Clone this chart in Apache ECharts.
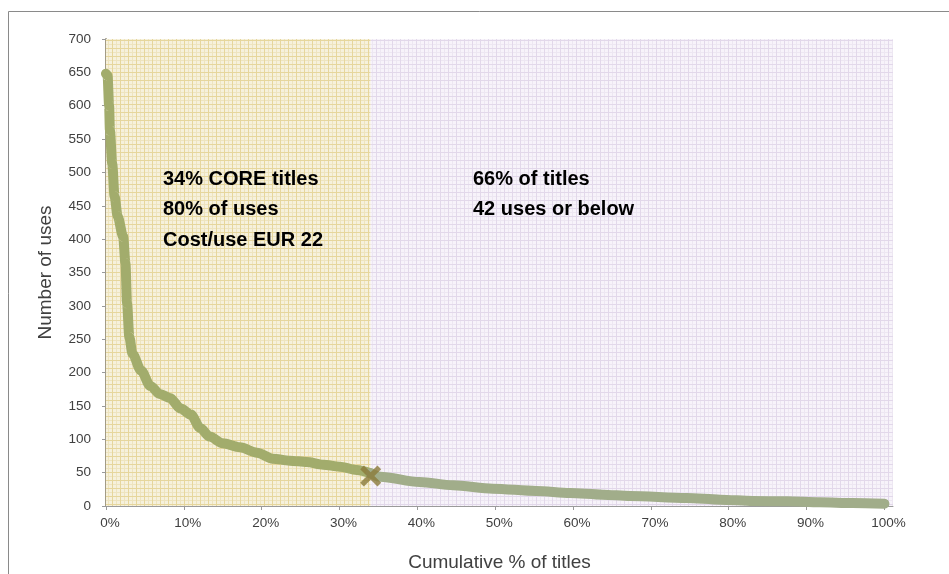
<!DOCTYPE html>
<html>
<head>
<meta charset="utf-8">
<script src="https://cdn.jsdelivr.net/npm/echarts@6/dist/echarts.min.js"></script>
<style>html,body{margin:0;padding:0;background:#fff;}#chart{width:949px;height:574px;}</style>
</head>
<body>
<div id="chart"></div>
<script>
// ---- data ----
const cumulativePct = [0, 0.2, 0.4, 0.5, 0.8, 1.1, 1.5, 2.2, 2.5, 2.7, 3.0, 3.4, 4.5, 5.7, 6.9, 8.2, 9.6, 10.9, 12.1, 13.3, 15.0, 17.2, 19.4, 21.4, 23.6, 25.8, 27.9, 30.0, 32.2, 34.0, 35.2, 40.3, 44.6, 49.7, 55.3, 59.6, 63.8, 67.3, 74.6, 78.9, 83.1, 87.5, 91.7, 95.9, 100];
const numberOfUses  = [648, 645, 600, 563, 513, 464, 434, 404, 364, 304, 253, 228, 203, 180, 168, 162, 146, 137, 117, 104, 94, 88, 80, 71, 68, 66, 62, 59, 54, 49, 44, 36, 31, 26, 22.5, 19.5, 17, 15, 12, 9.5, 7.5, 7, 5.5, 4.5, 3.5];
const cutoffPoint = [34, 45];
const coreBoundary = 34;
const xTickValues = [0, 10, 20, 30, 40, 50, 60, 70, 80, 90, 100];
const coreText = ['34% CORE titles', '80% of uses', 'Cost/use EUR 22'];
const tailText = ['66% of titles', '42 uses or below'];

function makePattern(base, major, minor) {
  const c = document.createElement('canvas');
  c.width = 8; c.height = 8;
  const g = c.getContext('2d');
  g.fillStyle = base; g.fillRect(0, 0, 8, 8);
  g.fillStyle = minor; g.fillRect(4, 0, 1, 8); g.fillRect(0, 4, 8, 1);
  g.fillStyle = major; g.fillRect(0, 0, 1, 8); g.fillRect(0, 0, 8, 1);
  return { image: c, repeat: 'repeat' };
}
const yellowPat = makePattern('#f6f1dc', '#e6d69c', '#eee4bf');
const lilacPat = makePattern('#f7f3fa', '#e2d8ea', '#ede7f2');

const chart = echarts.init(document.getElementById('chart'));
const lineData = cumulativePct.map((x, i) => [x, numberOfUses[i]]);
const coreData = lineData.filter(p => p[0] <= coreBoundary);
const tailData = lineData.filter(p => p[0] >= coreBoundary);
const fontFam = '"Liberation Sans", Arial, sans-serif';

const graphics = [
  { type: 'rect', shape: { x: 8.5, y: 11.5, width: 980, height: 620 }, style: { fill: 'none', stroke: '#8a8a8a', lineWidth: 1 }, silent: true, z: -1 }
];
coreText.forEach((t, i) => graphics.push({ type: 'text', left: 163, top: 169 + i * 30.5, style: { text: t, font: 'bold 20px ' + fontFam, fill: '#000' }, z: 50 }));
tailText.forEach((t, i) => graphics.push({ type: 'text', left: 473, top: 169 + i * 30.5, style: { text: t, font: 'bold 20px ' + fontFam, fill: '#000' }, z: 50 }));

const lineCommon = { type: 'line', showSymbol: false, smooth: 0.3, smoothMonotone: 'x', z: 3 };

chart.setOption({
  animation: false,
  grid: { left: 106, right: 56, top: 39, bottom: 68, outerBoundsMode: 'none', containLabel: false },
  xAxis: {
    type: 'value', min: 0, max: 101.1, interval: 10,
    name: 'Cumulative % of titles', nameLocation: 'middle', nameGap: 47,
    nameTextStyle: { fontSize: 19, color: '#404040', fontFamily: fontFam },
    axisLine: { show: true, lineStyle: { color: '#9a9a9a', width: 1 } },
    axisTick: { show: true, length: 4, customValues: xTickValues, lineStyle: { color: '#9a9a9a' } },
    axisLabel: { customValues: xTickValues, formatter: v => v + '%', fontSize: 13.5, color: '#404040', fontFamily: fontFam, margin: 10, padding: [0, 0, 0, 8] },
    splitLine: { show: false }
  },
  yAxis: {
    type: 'value', min: 0, max: 700, interval: 50,
    name: 'Number of uses', nameLocation: 'middle', nameGap: 51,
    nameTextStyle: { fontSize: 19, color: '#404040', fontFamily: fontFam },
    axisLine: { show: true, lineStyle: { color: '#a29b86', width: 2 } },
    axisTick: { show: true, length: 4, lineStyle: { color: '#9a9a9a' } },
    axisLabel: { fontSize: 13.5, color: '#404040', fontFamily: fontFam, margin: 15 },
    splitLine: { show: false }
  },
  graphic: graphics,
  series: [
    Object.assign({}, lineCommon, {
      data: coreData,
      lineStyle: { width: 10, color: '#a2ac6c', cap: 'round', join: 'round' },
      markArea: {
        silent: true,
        data: [
          [{ xAxis: 0, itemStyle: { color: yellowPat } }, { xAxis: coreBoundary }],
          [{ xAxis: coreBoundary, itemStyle: { color: lilacPat } }, { xAxis: 101.1 }]
        ]
      }
    }),
    Object.assign({}, lineCommon, {
      data: tailData,
      lineStyle: { width: 10, color: '#a1ad8a', cap: 'round', join: 'round' }
    }),
    {
      type: 'scatter', data: [cutoffPoint], z: 5,
      symbol: 'path://M0,3.5 L3.5,0 L10,6.5 L16.5,0 L20,3.5 L13.5,10 L20,16.5 L16.5,20 L10,13.5 L3.5,20 L0,16.5 L6.5,10 Z',
      symbolSize: 21,
      itemStyle: { color: '#8b7a3a' }
    }
  ]
});
</script>
</body>
</html>
